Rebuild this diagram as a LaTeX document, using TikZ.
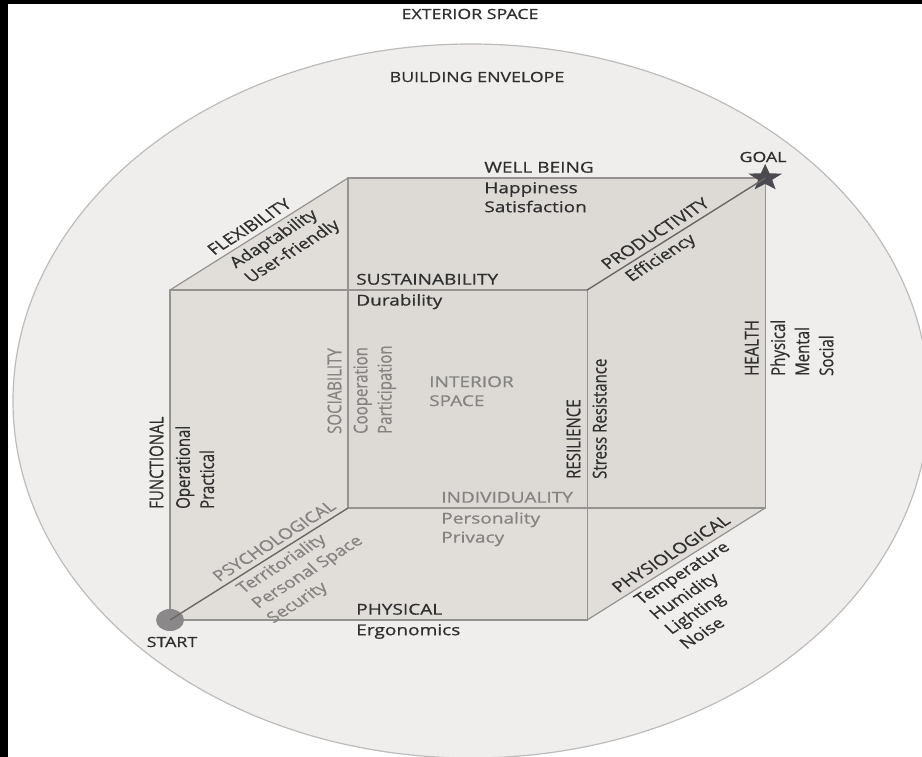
\documentclass[tikz,border=0pt]{standalone}
\usepackage{fontspec}
\setmainfont{Open Sans}[FakeBold=0.6]
\usetikzlibrary{calc, shapes.geometric}
\definecolor{envfill}{HTML}{F0EEEC}
\definecolor{envline}{HTML}{BEBCBA}
\definecolor{cubefill}{HTML}{E1DEDA}
\definecolor{backfill}{HTML}{DDDAD6}
\definecolor{edgegray}{HTML}{959391}
\definecolor{axisgray}{HTML}{6A6866}
\definecolor{txtdark}{HTML}{2F2F2F}
\definecolor{txtlight}{HTML}{858381}
\definecolor{stardark}{HTML}{4A4A50}
\definecolor{dotgray}{HTML}{8A8888}

\begin{document}
\begin{tikzpicture}[x=0.7874pt, y=-1pt, xscale=1.27, transform shape,
    every node/.style={font=\fontsize{15}{19}\selectfont},
    HEAD/.style={anchor=south west, inner sep=0pt, yshift=5pt, text=txtdark},
    SUB/.style={anchor=north west, inner sep=0pt, yshift=-4pt, align=left, text=txtdark},
    DIM/.style={text=txtlight},
    SLP/.style={rotate=38.63},
    VRT/.style={rotate=90},
    TTL/.style={inner sep=0pt, text=txtdark, font=\fontsize{14}{17}\selectfont},
    EDG/.style={draw=edgegray, line width=1.2pt},
    AXS/.style={draw=axisgray, line width=1.4pt}
    ]
    \useasboundingbox (0,0) rectangle (922,757);
    \clip (0,0) rectangle (922,757);
    \fill[white] (0,0) rectangle (922,757);
    \fill[black] (0,0) rectangle (922,4);
    \fill[black] (0,0) rectangle (8,757);
    % building envelope
    \draw[envline, fill=envfill, line width=1.2pt] (471,401) ellipse [x radius=458, y radius=357];
    \node[TTL] (ext) at (470,14) {EXTERIOR SPACE};
    \node[TTL] (env) at (477,77) {BUILDING ENVELOPE};
    % cube corners
    \coordinate (F1) at (170,620);
    \coordinate (F2) at (587,620);
    \coordinate (F3) at (587,290);
    \coordinate (F4) at (170,290);
    \coordinate (B1) at (348,508);
    \coordinate (B2) at (765,508);
    \coordinate (B3) at (765,178);
    \coordinate (B4) at (348,178);
    \fill[cubefill] (F1) -- (F2) -- (B2) -- (B3) -- (B4) -- (F4) -- cycle;
    \fill[backfill] (B1) rectangle (B3);
    \draw[EDG] (F1) rectangle (F3);
    \draw[EDG] (B1) rectangle (B3);
    \draw[EDG] (F4) -- (B4);
    \draw[EDG] (F2) -- (B2);
    \node[circle, fill=dotgray, minimum size=22pt, inner sep=0pt] (start) at (F1) {};
    \node[star, star points=5, star point ratio=2.4, fill=stardark, minimum size=28pt, inner sep=0pt] (goal) at (B3) {};
    \draw[AXS] (start.center) -- (B1);
    \draw[AXS] (F3) -- (goal.center);
    \node[TTL] (startlbl) at (172,642) {START};
    \node[TTL] (goallbl) at (763,157) {GOAL};
    % horizontal edges
    \node[HEAD] (wb) at ($(B4)+(136,0)$) {WELL BEING};
    \node[SUB] (wbs) at ($(B4)+(136,0)$) {Happiness\\Satisfaction};
    \node[HEAD] (su) at ($(F4)+(186,0)$) {SUSTAINABILITY};
    \node[SUB] (sus) at ($(F4)+(186,0)$) {Durability};
    \node[HEAD, DIM] (in) at ($(B1)+(93,0)$) {INDIVIDUALITY};
    \node[SUB, DIM] (ins) at ($(B1)+(93,0)$) {Personality\\Privacy};
    \node[HEAD] (ph) at ($(F1)+(186,0)$) {PHYSICAL};
    \node[SUB] (phs) at ($(F1)+(186,0)$) {Ergonomics};
    % vertical edges
    \node[VRT, HEAD] (fu) at ($(F1)+(0,-111)$) {FUNCTIONAL};
    \node[VRT, SUB] (fus) at ($(F1)+(0,-111)$) {Operational\\Practical};
    \node[VRT, HEAD, DIM] (so) at ($(B1)+(0,-74)$) {SOCIABILITY};
    \node[VRT, SUB, DIM] (sos) at ($(B1)+(0,-74)$) {Cooperation\\Participation};
    \node[VRT, HEAD] (re) at ($(F2)+(0,-141)$) {RESILIENCE};
    \node[VRT, SUB] (res) at ($(F2)+(0,-141)$) {Stress Resistance};
    \node[VRT, HEAD] (he) at ($(B2)+(0,-132)$) {HEALTH};
    \node[VRT, SUB] (hes) at ($(B2)+(0,-132)$) {Physical\\Mental\\Social};
    % sloped edges
    \node[SLP, HEAD] (fl) at ($(F4)!0.27!(B4)$) {FLEXIBILITY};
    \node[SLP, SUB] (fls) at ($(F4)!0.30!(B4)$) {Adaptability\\User-friendly};
    \node[SLP, HEAD] (pr) at ($(F3)!0.14!(B3)$) {PRODUCTIVITY};
    \node[SLP, SUB] (prs) at ($(F3)!0.18!(B3)$) {Efficiency};
    \node[SLP, HEAD, DIM] (ps) at ($(F1)!0.30!(B1)$) {PSYCHOLOGICAL};
    \node[SLP, SUB, DIM] (pss) at ($(F1)!0.34!(B1)$) {Territoriality\\Personal Space\\Security};
    \node[SLP, HEAD] (py) at ($(F2)!0.20!(B2)$) {PHYSIOLOGICAL};
    \node[SLP, SUB] (pys) at ($(F2)!0.236!(B2)$) {Temperature\\Humidity\\Lighting\\Noise};
    % interior
    \node[DIM, align=left, anchor=north west, inner sep=0pt] (isp) at (429,376) {INTERIOR\\SPACE};
\end{tikzpicture}
\end{document}
